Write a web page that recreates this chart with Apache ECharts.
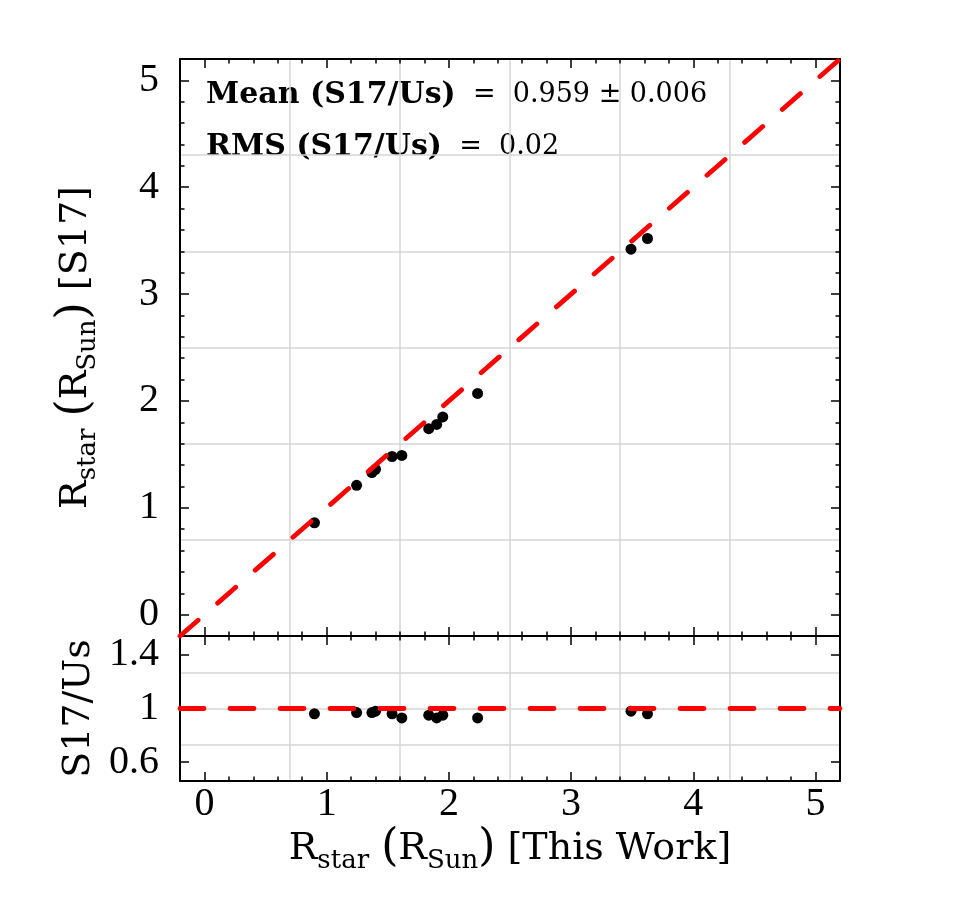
<!DOCTYPE html>
<html>
<head>
<meta charset="utf-8">
<script src="https://cdn.jsdelivr.net/npm/echarts@6/dist/echarts.min.js"></script>
<style>
  body { margin: 0; background: #fff; }
  #chart { width: 975px; height: 900px; }
</style>
</head>
<body>
<div id="chart"></div>
<script>
// radii (R_sun)
var rThisWork = [0.90, 1.245, 1.37, 1.40, 1.535, 1.615, 1.835, 1.90, 1.95, 2.235, 3.49, 3.625]
var rS17 = [0.86, 1.21, 1.33, 1.36, 1.48, 1.49, 1.74, 1.78, 1.85, 2.07, 3.42, 3.52]
// S17 / this work
var ratioS17Us = [0.96, 0.97, 0.97, 0.98, 0.96, 0.93, 0.95, 0.93, 0.95, 0.93, 0.98, 0.96]

var xTicks = [0, 1, 2, 3, 4, 5]
var yTicksTop = [0, 1, 2, 3, 4, 5]
var yTicksBottom = [0.6, 1, 1.4]
var oneToOne = [[-0.2, -0.2], [5.2, 5.2]]
var unityRatio = [[-0.2, 1], [5.2, 1]]
var meanText = '0.959 ± 0.006'
var rmsText = '0.02'

var RANGE = [-0.2, 5.2]
var RATIO_RANGE = [0.46, 1.54]
var TICK_FONT = 'Liberation Serif'
var LABEL_FONT = 'DejaVu Serif'

// minor tick positions every 0.2
function minorTicks(lo, hi, step, majors) {
  var out = []
  for (var v = lo; v <= hi + 1e-9; v += step) {
    var r = Math.round(v * 100) / 100
    if (majors.indexOf(r) < 0) out.push(r)
  }
  return out
}
var xMinor = minorTicks(0.2, 5.0, 0.2, xTicks)

var richLabel = {
  m: { fontFamily: LABEL_FONT, fontSize: 38, color: '#000', lineHeight: 50 },
  s: { fontFamily: LABEL_FONT, fontSize: 26, color: '#000', verticalAlign: 'bottom', lineHeight: 34 },
  p: { fontFamily: LABEL_FONT, fontSize: 44, color: '#000', lineHeight: 50 }
}

function tickAxis(grid, pos, range, values, len, lineShow, label) {
  return {
    type: 'value',
    gridIndex: grid,
    position: pos,
    min: range[0],
    max: range[1],
    axisLine: { show: lineShow, onZero: false, lineStyle: { color: '#000', width: 2 } },
    axisTick: { show: true, inside: true, length: len, customValues: values, lineStyle: { color: '#000', width: 1.5 } },
    axisLabel: label ? Object.assign({ customValues: values, fontFamily: TICK_FONT, fontSize: 40, color: '#000' }, label) : { show: false },
    splitLine: { show: false }
  }
}

function gridAxis(grid, span, step) {
  return {
    type: 'value',
    gridIndex: grid,
    min: 0,
    max: span,
    interval: step,
    axisLine: { show: false },
    axisTick: { show: false },
    axisLabel: { show: false },
    splitLine: { show: true, lineStyle: { color: '#d6d6d6', width: 1.5 } }
  }
}

var xMain = tickAxis(1, 'bottom', RANGE, xTicks, 9, true, { margin: 3 })
xMain.name = '{m|R}{s|star}{m| }{p|(}{m|R}{s|Sun}{p|)}{m| [This Work]}'
xMain.nameLocation = 'middle'
xMain.nameGap = 43
xMain.nameTextStyle = { rich: richLabel }

var yMainTop = tickAxis(0, 'left', RANGE, yTicksTop, 9, true, { margin: 21 })
yMainTop.name = '{m|R}{s|star}{m| }{p|(}{m|R}{s|Sun}{p|)}{m| [S17]}'
yMainTop.nameLocation = 'middle'
yMainTop.nameGap = 79
yMainTop.nameTextStyle = { rich: richLabel }

var yMainBottom = tickAxis(1, 'left', RATIO_RANGE, yTicksBottom, 9, true, { margin: 21 })
yMainBottom.name = '{m|S17/Us}'
yMainBottom.nameLocation = 'middle'
yMainBottom.nameGap = 76
yMainBottom.nameTextStyle = { rich: richLabel }

var statRich = {
  b: { fontFamily: LABEL_FONT, fontSize: 30, fontWeight: 'bold', fill: '#000' },
  n: { fontFamily: LABEL_FONT, fontSize: 27, fill: '#000' }
}

var chart = echarts.init(document.getElementById('chart'))
chart.setOption({
  backgroundColor: '#fff',
  animation: false,
  grid: [
    { left: 180, top: 59, width: 660, height: 577 },
    { left: 180, top: 636, width: 660, height: 145 }
  ],
  xAxis: [
    tickAxis(0, 'bottom', RANGE, xTicks, 9, true),   // 0 data axis, top panel
    tickAxis(0, 'top', RANGE, xTicks, 9, true),
    tickAxis(0, 'bottom', RANGE, xMinor, 4.5, false),
    tickAxis(0, 'top', RANGE, xMinor, 4.5, false),
    gridAxis(0, 5.4, 0.9),
    xMain,                                           // 5 data axis, bottom panel
    tickAxis(1, 'top', RANGE, xTicks, 9, true),
    tickAxis(1, 'bottom', RANGE, xMinor, 4.5, false),
    tickAxis(1, 'top', RANGE, xMinor, 4.5, false),
    gridAxis(1, 5.4, 0.9)
  ],
  yAxis: [
    yMainTop,                                        // 0
    tickAxis(0, 'right', RANGE, yTicksTop, 9, true),
    tickAxis(0, 'left', RANGE, xMinor, 4.5, false),
    tickAxis(0, 'right', RANGE, xMinor, 4.5, false),
    gridAxis(0, 5.4, 0.9),
    yMainBottom,                                     // 5
    tickAxis(1, 'right', RATIO_RANGE, yTicksBottom, 9, true),
    gridAxis(1, 1.08, 0.27)
  ],
  graphic: [
    {
      type: 'text', x: 206, y: 95,
      style: { text: '{b|Mean (S17/Us)}{n|  =  ' + meanText + '}', rich: statRich, verticalAlign: 'middle' }
    },
    {
      type: 'text', x: 206, y: 147,
      style: { text: '{b|RMS (S17/Us)}{n|  =  ' + rmsText + '}', rich: statRich, verticalAlign: 'middle' }
    }
  ],
  series: [
    {
      type: 'scatter',
      xAxisIndex: 0,
      yAxisIndex: 0,
      symbolSize: 11,
      itemStyle: { color: '#000', opacity: 1 },
      data: rThisWork.map(function (x, i) { return [x, rS17[i]] }),
      z: 3
    },
    {
      type: 'line',
      xAxisIndex: 0,
      yAxisIndex: 0,
      showSymbol: false,
      symbol: 'none',
      lineStyle: { color: '#ff0000', width: 4.8, type: [24, 26], cap: 'round' },
      data: oneToOne,
      z: 4
    },
    {
      type: 'scatter',
      xAxisIndex: 5,
      yAxisIndex: 5,
      symbolSize: 11,
      itemStyle: { color: '#000', opacity: 1 },
      data: rThisWork.map(function (x, i) { return [x, ratioS17Us[i]] }),
      z: 3
    },
    {
      type: 'line',
      xAxisIndex: 5,
      yAxisIndex: 5,
      showSymbol: false,
      symbol: 'none',
      lineStyle: { color: '#ff0000', width: 4.8, type: [24, 26], cap: 'round' },
      data: unityRatio,
      z: 4
    }
  ]
})
</script>
</body>
</html>
